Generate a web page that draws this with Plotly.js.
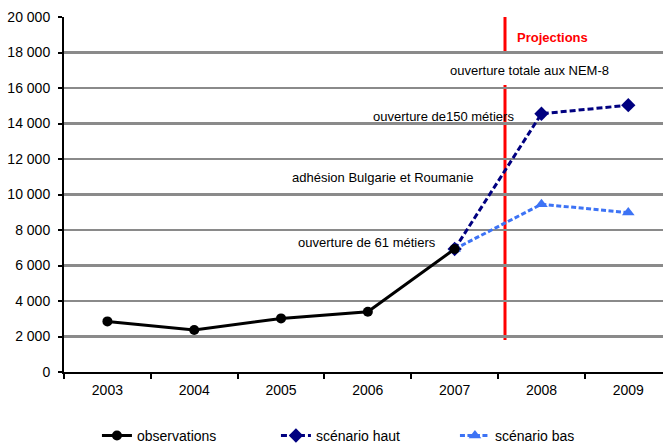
<!DOCTYPE html>
<html>
<head>
<meta charset="utf-8">
<script src="https://cdn.plot.ly/plotly-3.0.1.min.js"></script>
<style>
  html, body { margin: 0; padding: 0; background: #fff; }
  #chart { width: 663px; height: 444px; }
</style>
</head>
<body>
<div id="chart"></div>
<script>
// Years on the category axis
const years = ['2003', '2004', '2005', '2006', '2007', '2008', '2009'];

// Observed values and the two projection scenarios (start from 2007)
const observations = [2850, 2370, 3020, 3390, 6930, null, null];
const scenarioHaut = [null, null, null, null, 6930, 14550, 15030];
const scenarioBas  = [null, null, null, null, 6930, 9450, 8980];

// Legend names
const seriesNames = ['observations', 'scénario haut', 'scénario bas'];

// Event labels and the "Projections" marker
const eventLabels = [
  'ouverture de 61 métiers',
  'adhésion Bulgarie et Roumanie',
  'ouverture de150 métiers',
  'ouverture totale aux NEM-8'
];
const projectionLabel = 'Projections';

const FONT = '"Liberation Sans", Arial, sans-serif';

const traces = [
  {
    x: years, y: scenarioHaut, name: seriesNames[1], type: 'scatter', mode: 'lines+markers',
    line: {color: '#000080', width: 3, dash: '6px,3px'},
    marker: {symbol: 'diamond', size: 11, color: '#000080'},
    legendrank: 2, connectgaps: false
  },
  {
    x: years, y: scenarioBas, name: seriesNames[2], type: 'scatter', mode: 'lines+markers',
    line: {color: '#3d73f5', width: 3, dash: '5px,2.5px'},
    marker: {symbol: 'triangle-up', size: 11, color: '#3d73f5'},
    legendrank: 3, connectgaps: false
  },
  {
    x: years, y: observations, name: seriesNames[0], type: 'scatter', mode: 'lines+markers',
    line: {color: '#000000', width: 3},
    marker: {symbol: 'circle', size: 10, color: '#000000'},
    legendrank: 1, connectgaps: false
  }
];

// White label boxes hide the gridlines behind the event labels
function box(x0, x1, y0, y1) {
  return {type: 'rect', xref: 'x', yref: 'y', x0: x0, x1: x1, y0: y0, y1: y1,
          fillcolor: '#ffffff', line: {width: 0}, layer: 'below'};
}

const shapes = [
  box(2.10, 3.91, 6420, 8170),
  box(2.02, 4.35, 10140, 12110),
  box(2.945, 4.81, 13580, 15210),
  // projection boundary
  {type: 'line', xref: 'x', yref: 'y', x0: 4.58, x1: 4.58, y0: 1800, y1: 20000,
   line: {color: '#ff0000', width: 3}, layer: 'below'},
  box(3.83, 5.905, 16170, 17970)
];

const annotations = [
  {x: 2.99, y: 7300, text: eventLabels[0]},
  {x: 3.17, y: 10930, text: eventLabels[1]},
  {x: 3.87, y: 14420, text: eventLabels[2]},
  {x: 4.86, y: 17010, text: eventLabels[3]}
].map(a => Object.assign({xref: 'x', yref: 'y', showarrow: false,
  font: {family: FONT, size: 13, color: '#000'}, xanchor: 'center', yanchor: 'middle'}, a));

annotations.push({
  x: 5.13, y: 18870, xref: 'x', yref: 'y', showarrow: false, text: '<b>' + projectionLabel + '</b>',
  font: {family: FONT, size: 13, color: '#ff0000'}, xanchor: 'center', yanchor: 'middle'
});

const layout = {
  width: 663, height: 444,
  margin: {l: 64, r: 0, t: 17, b: 72, pad: 0, autoexpand: false},
  paper_bgcolor: '#ffffff', plot_bgcolor: '#ffffff',
  separators: ', ',
  font: {family: FONT, size: 14, color: '#000'},
  showlegend: true,
  legend: {orientation: 'h', x: 0.055, xanchor: 'left', y: -0.18, yanchor: 'middle',
           font: {family: FONT, size: 14}, itemwidth: 30, traceorder: 'normal',
           entrywidth: 134, entrywidthmode: 'pixels'},
  xaxis: {
    type: 'category', range: [-0.5, 6.4],
    showgrid: false, zeroline: false, automargin: false,
    showline: true, linecolor: '#000', linewidth: 2,
    ticks: 'outside', tickson: 'boundaries', ticklen: 5, tickwidth: 2, tickcolor: '#000',
    ticklabelstandoff: 4,
    tickfont: {family: FONT, size: 14}, fixedrange: true
  },
  yaxis: {
    range: [0, 20000], dtick: 2000, tick0: 0,
    tickformat: ',d', automargin: false,
    showgrid: true, gridcolor: '#8a8a8a', gridwidth: 2.5,
    zeroline: false,
    showline: true, linecolor: '#000', linewidth: 2,
    ticks: 'outside', ticklen: 4, tickwidth: 2, tickcolor: '#000',
    ticklabelstandoff: 5,
    tickfont: {family: FONT, size: 14}, fixedrange: true
  },
  shapes: shapes,
  annotations: annotations
};

Plotly.newPlot('chart', traces, layout, {displayModeBar: false, staticPlot: true});
</script>
</body>
</html>
